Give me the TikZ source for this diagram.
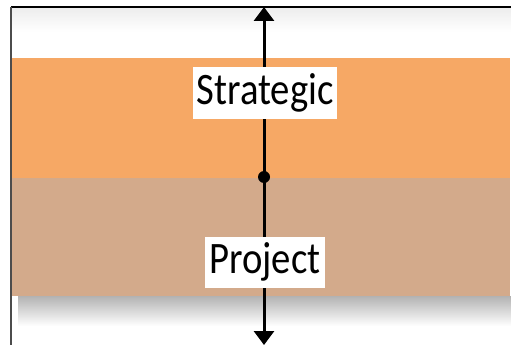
\documentclass[tikz,border=0pt]{standalone}
\usepackage{fontspec}
\setmainfont{Carlito}
\usetikzlibrary{arrows.meta,positioning}
\definecolor{stratfill}{HTML}{F6A865}
\definecolor{projfill}{HTML}{D3AA8B}
\newcommand{\narrow}[1]{\scalebox{0.86}[1]{#1}}
\tikzset{
  band/.style={rectangle,draw=none,anchor=north west,minimum width=498pt,inner sep=0pt},
  lbl/.style={rectangle,fill=white,font=\fontsize{45}{48}\selectfont,inner xsep=4pt,minimum height=51pt},
  axis/.style={{Triangle[length=14pt,width=20pt]}-{Triangle[length=14pt,width=20pt]},line width=3pt,draw=black},
  jn/.style={circle,fill=black,minimum size=12pt,inner sep=0pt},
  frm/.style={line width=1.3pt},
}
\begin{document}
\begin{tikzpicture}[x=1pt,y=-1pt]
\useasboundingbox (0,0) rectangle (511,345);
% ---- shadows
\shade[top color=black!7,bottom color=white] (12,8) rectangle (511,32);
\shade[top color=black!30,bottom color=white] (18,296) rectangle (511,326);
% ---- bands
\node[band,fill=stratfill,minimum height=120pt] (strat) at (12,58) {};
\node[band,fill=projfill,minimum height=118pt] (proj) at (12,178) {};
% ---- frame
\coordinate (tl) at (11,7);
\coordinate (tr) at (511,7);
\coordinate (bl) at (11,345);
\draw[frm,black] (tr) -- (tl);
\draw[frm,black!70] (tl) -- (bl);
% ---- axis
\coordinate (atop) at (264,7);
\coordinate (abot) at (264,345);
\draw[axis] (abot) -- (atop);
\node[jn] (mid) at (264,177) {};
\node[lbl] (lstrat) at (265,93) {\narrow{Strategic}};
\node[lbl] (lproj) at (265,262) {\narrow{Project}};
\end{tikzpicture}
\end{document}
